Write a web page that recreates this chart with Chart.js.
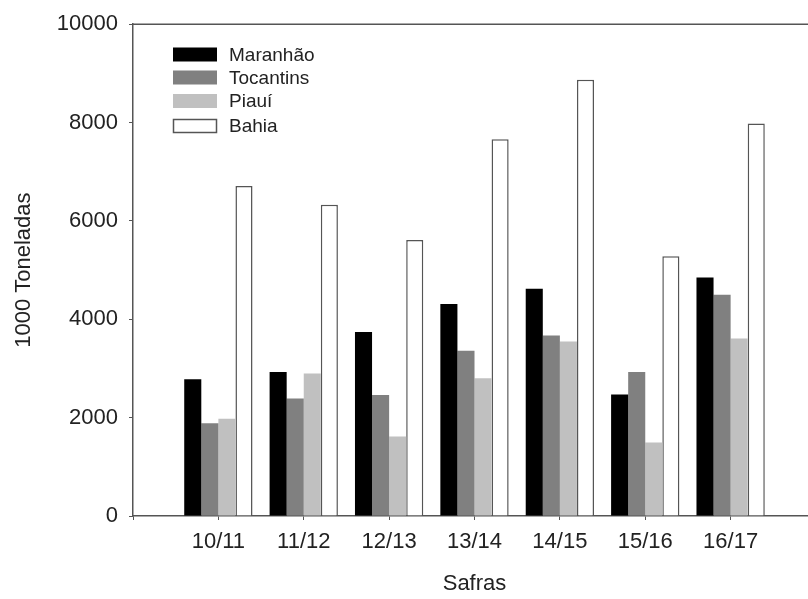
<!DOCTYPE html>
<html>
<head>
<meta charset="utf-8">
<script src="https://cdn.jsdelivr.net/npm/chart.js@4"></script>
<style>
  body { margin: 0; background: #fff; overflow: hidden; }
  #wrap { width: 808px; height: 599px; overflow: hidden; }
</style>
</head>
<body>
<div id="wrap"><canvas id="myChart" width="830" height="599"></canvas></div>
<script>
// safras (blank slots at both ends, like the original axis)
const safras = ['', '10/11', '11/12', '12/13', '13/14', '14/15', '15/16', '16/17', ''];

const maranhao  = [null, 2780, 2930, 3740, 4310, 4620, 2470, 4850, null];
const tocantins = [null, 1885, 2390, 2460, 3360, 3670, 2930, 4500, null];
const piaui     = [null, 1975, 2900, 1615, 2800, 3550, 1495, 3610, null];
const bahia     = [null, 6710, 6330, 5610, 7660, 8870, 5280, 7980, null];

const yTicks = [0, 2000, 4000, 6000, 8000, 10000];

const fontFamily = "'Liberation Sans', Arial, sans-serif";
const axisColor = '#555';
const textColor = '#222';

// linha de cima do quadro + legenda dentro da area
const framePlugin = {
    id: 'frame',
    afterDraw(chart) {
        const ctx = chart.ctx;
        const area = chart.chartArea;
        ctx.save();
        ctx.strokeStyle = axisColor;
        ctx.lineWidth = 1.5;
        ctx.beginPath();
        ctx.moveTo(area.left, area.top);
        ctx.lineTo(area.right, area.top);
        ctx.stroke();

        // legenda
        const boxX = 173, boxW = 44, boxH = 14, textX = 229;
        const rowY = [54.5, 77.5, 101, 126];
        ctx.font = '19px ' + fontFamily;
        ctx.textBaseline = 'middle';
        ctx.textAlign = 'left';
        chart.data.datasets.forEach((ds, i) => {
            const cy = rowY[i];
            ctx.fillStyle = ds.backgroundColor;
            ctx.fillRect(boxX, cy - boxH / 2, boxW, boxH);
            if (ds.backgroundColor === '#ffffff') {
                ctx.strokeStyle = axisColor;
                ctx.lineWidth = 1.5;
                ctx.strokeRect(boxX + 0.5, cy - boxH / 2 + 0.5, boxW - 1, boxH - 1);
            }
            ctx.fillStyle = textColor;
            ctx.fillText(ds.label, textX, cy + 1);
        });
        ctx.restore();
    }
};

const ctx = document.getElementById('myChart').getContext('2d');
const myChart = new Chart(ctx, {
    type: 'bar',
    data: {
        labels: safras,
        datasets: [
            { label: 'Maranhão', data: maranhao, backgroundColor: '#000000', borderColor: '#000000', borderWidth: 0 },
            { label: 'Tocantins', data: tocantins, backgroundColor: '#808080', borderColor: '#808080', borderWidth: 0 },
            { label: 'Piauí', data: piaui, backgroundColor: '#c0c0c0', borderColor: '#c0c0c0', borderWidth: 0 },
            { label: 'Bahia', data: bahia, backgroundColor: '#ffffff', borderColor: axisColor, borderWidth: 1.5 }
        ]
    },
    options: {
        responsive: false,
        animation: false,
        devicePixelRatio: 1,
        layout: { padding: { top: 19, right: 14, bottom: 0, left: 0 } },
        plugins: {
            legend: { display: false },
            tooltip: { enabled: false }
        },
        datasets: {
            bar: { categoryPercentage: 0.8, barPercentage: 1.0 }
        },
        scales: {
            x: {
                offset: false,
                grid: { display: true, offset: false, drawOnChartArea: false, drawTicks: true, tickLength: 4, color: axisColor, lineWidth: 1 },
                border: { color: axisColor, width: 1.5 },
                ticks: { color: textColor, font: { family: fontFamily, size: 22 }, padding: 9, maxRotation: 0, autoSkip: false },
                title: { display: true, text: 'Safras', color: textColor, font: { family: fontFamily, size: 22 }, padding: { top: 2, bottom: 2 } },
                afterFit(scale) { scale.height = 83; }
            },
            y: {
                min: 0,
                max: 10000,
                afterBuildTicks(scale) { scale.ticks = yTicks.map(v => ({ value: v })); },
                grid: { display: true, drawOnChartArea: false, drawTicks: true, tickLength: 4, color: axisColor, lineWidth: 1 },
                border: { color: axisColor, width: 1.5 },
                ticks: { color: textColor, font: { family: fontFamily, size: 22 }, padding: 11, callback: v => String(v) },
                title: { display: true, text: '1000 Toneladas', color: textColor, font: { family: fontFamily, size: 22 }, padding: { top: 11, bottom: 0 } },
                afterFit(scale) { scale.width = 133; }
            }
        }
    },
    plugins: [framePlugin]
});
</script>
</body>
</html>
